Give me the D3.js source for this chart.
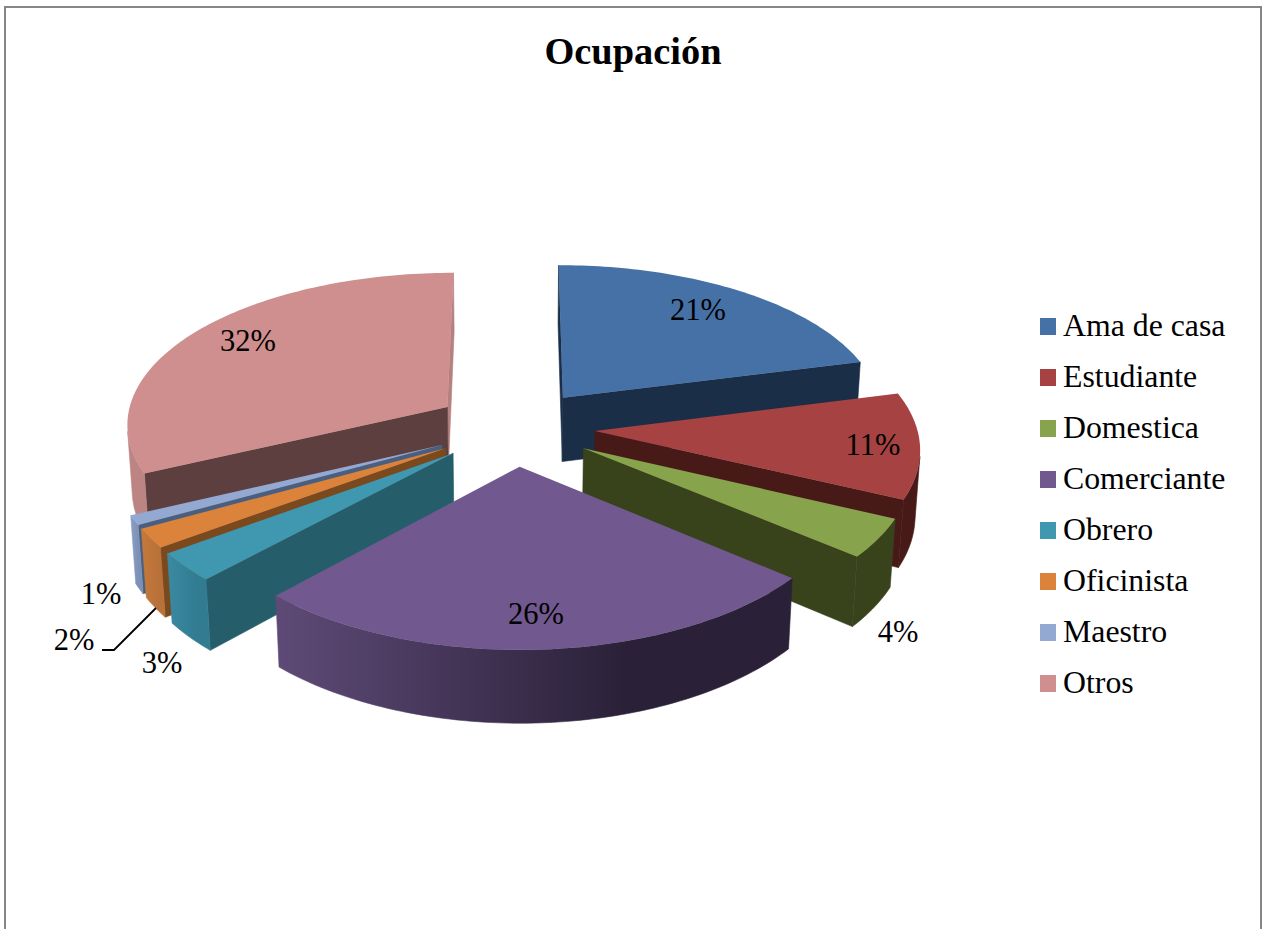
<!DOCTYPE html>
<html><head><meta charset="utf-8">
<script src="https://cdnjs.cloudflare.com/ajax/libs/d3/7.8.5/d3.min.js"></script>
<style>html,body{margin:0;padding:0;background:#fff;overflow:hidden}svg{display:block}text{font-family:"Liberation Serif","Times New Roman",serif;fill:#000}</style>
</head><body><svg id="c" width="1262" height="929"></svg>
<script>
const categories = ["Ama de casa","Estudiante","Domestica","Comerciante","Obrero","Oficinista","Maestro","Otros"];
const values = [21,11,4,26,3,2,1,32];
const labels = ["21%","11%","4%","26%","3%","2%","1%","32%"];
const topColors = ["#4571A7","#A64342","#87A44C","#71588F","#3F97B0","#DB833A","#93A9D1","#CF8F8E"];
const startCut = ["#1A2E47","#471A18","#38431C","#2A2138","#265D6B","#7A4A1E","#4A5F80","#5E3F3F"];
const endCut = ["#1A2E47","#471A18","#38431C","#2A2138","#265D6B","#7A4A1E","#4A5F80","#B5807F"];
const rimLeft = ["#1A2E47","#471A18","#38431C","#5E4A77","#3A8AA2","#C67A3A","#8A9FC4","#BC8584"];
const rimRight = ["#1A2E47","#471A18","#38431C","#2A2138","#327C91","#B9713A","#7C90B5","#BC8584"];
const labelX = [698,873,898,536,162,74,101,248];
const labelY = [320,455,642,624,673,650,604,351];

const svg = d3.select("#c");
const defs = svg.append("defs");
const cx = 514.5, cy = 427.3, A = 322, B = 153.4, H = 65, Dx = 10, Dy = 9, Dz = 11, Zp = 0.0125, explode = 0.25;
const radius = d3.scaleLinear().domain([0,1]).range([0,1]);
function project(X,Y,z){
  return [cx + A*X/(1 + Y/Dx + Zp*z), cy - B*Y/(1 + Y/Dy) + H*z/(1 + Y/Dz)];
}
const line = d3.line().curve(d3.curveLinear);

const arcs = d3.pie().sort(null).value(d=>d)(values);
const slices = arcs.map((a,i)=>{
  const mid=(a.startAngle+a.endAngle)/2;
  return {i,a0:a.startAngle,a1:a.endAngle,ax:explode*Math.sin(mid),ay:explode*Math.cos(mid)};
});
const order = d3.sort(slices,(u,v)=>d3.descending(u.ay,v.ay));
const g = svg.append("g");

order.forEach(s=>{
  const rim=(t,z)=>project(s.ax+radius(1)*Math.sin(t),s.ay+radius(1)*Math.cos(t),z);
  const apex=z=>project(s.ax,s.ay,z);
  const sg=g.append("g");
  const draw=(pts,fill)=>sg.append("path").attr("d",line(pts)+"Z").attr("fill",fill).attr("stroke",fill).attr("stroke-width",0.6);
  const qe=[apex(0),rim(s.a1,0),rim(s.a1,1),apex(1)];
  if(d3.polygonArea(qe)<0) draw(qe,endCut[s.i]);
  const qs=[apex(0),rim(s.a0,0),rim(s.a0,1),apex(1)];
  if(d3.polygonArea(qs)>0) draw(qs,startCut[s.i]);
  const n=Math.max(4,Math.ceil((s.a1-s.a0)/0.02));
  const ang=d3.scaleLinear().domain([0,n]).range([s.a0,s.a1]);
  const vis=d3.range(n).filter(k=>d3.polygonArea([rim(ang(k),0),rim(ang(k+1),0),rim(ang(k+1),1),rim(ang(k),1)])>0);
  if(vis.length){
    const ks=vis.concat([vis[vis.length-1]+1]);
    const pts=ks.map(k=>rim(ang(k),0)).concat(ks.slice().reverse().map(k=>rim(ang(k),1)));
    const [x0,x1]=d3.extent(pts,p=>p[0]);
    const id="rim"+s.i;
    const gr=defs.append("linearGradient").attr("id",id).attr("gradientUnits","userSpaceOnUse")
      .attr("x1",x0).attr("x2",x1).attr("y1",0).attr("y2",0);
    gr.append("stop").attr("offset",0).attr("stop-color",rimLeft[s.i]);
    gr.append("stop").attr("offset",0.68).attr("stop-color",rimRight[s.i]);
    gr.append("stop").attr("offset",1).attr("stop-color",rimRight[s.i]);
    draw(pts,"url(#"+id+")");
  }
  const top=[apex(0)].concat(d3.range(n+1).map(k=>rim(ang(k),0)));
  sg.append("path").attr("d",line(top)+"Z").attr("fill",topColors[s.i]);
});

svg.append("path").attr("d",line([[102,650],[114,650],[156,608]])).attr("fill","none").attr("stroke","#000").attr("stroke-width",1.8);

svg.selectAll("text.lab").data(labels).join("text").attr("class","lab")
  .attr("x",(d,i)=>labelX[i]).attr("y",(d,i)=>labelY[i]).attr("text-anchor","middle")
  .attr("font-size",30.5).text(d=>d);

const ly = d3.scalePoint().domain(categories).range([326,683]);
const lg = svg.selectAll("g.leg").data(categories).join("g").attr("class","leg");
lg.append("rect").attr("x",1040).attr("y",d=>ly(d)-8).attr("width",16).attr("height",17).attr("fill",(d,i)=>topColors[i]);
lg.append("text").attr("x",1063).attr("y",d=>ly(d)+10).attr("font-size",31.8).text(d=>d);

svg.append("text").attr("x",633).attr("y",64).attr("text-anchor","middle").attr("font-size",38.4).attr("font-weight","bold").text("Ocupación");

svg.append("path").attr("d",line([[5,929],[5,7],[1261,7],[1261,929]])).attr("fill","none").attr("stroke","#868686").attr("stroke-width",2);
</script></body></html>
